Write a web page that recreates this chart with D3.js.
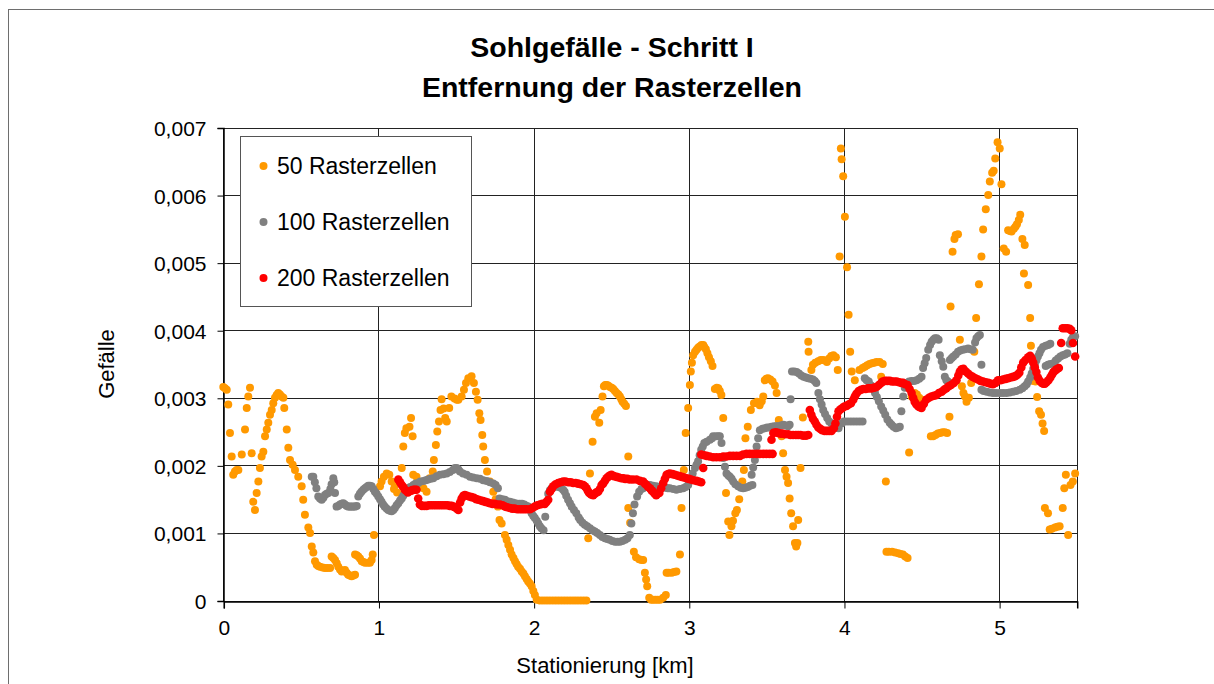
<!DOCTYPE html>
<html><head><meta charset="utf-8">
<script src="https://cdn.jsdelivr.net/npm/d3@7"></script>
<style>html,body{margin:0;padding:0;background:#fff;}svg{display:block;}</style>
</head><body>
<svg id="chart" width="1214" height="684"></svg>
<script>
const titleLines = ["Sohlgefälle - Schritt I", "Entfernung der Rasterzellen"];
const xTitle = "Stationierung [km]";
const yTitle = "Gefälle";
const seriesNames = ["50 Rasterzellen", "100 Rasterzellen", "200 Rasterzellen"];
const xTicks = [0, 1, 2, 3, 4, 5];
const xTickLabels = ["0", "1", "2", "3", "4", "5"];
const yTicks = [0, 0.001, 0.002, 0.003, 0.004, 0.005, 0.006, 0.007];
const yTickLabels = ["0", "0,001", "0,002", "0,003", "0,004", "0,005", "0,006", "0,007"];

// 50 Rasterzellen: [km, Gefälle]
const s50 = [
[0.000,0.00316],[0.011,0.00314],[0.022,0.00312],[0.032,0.00290],[0.043,0.00248],[0.054,0.00213],[0.064,0.00186],[0.075,0.00191],[0.086,0.00193],[0.097,0.00193],[0.119,0.00216],[0.140,0.00253],[0.151,0.00285],[0.161,0.00302],[0.172,0.00315],[0.183,0.00218],[0.193,0.00146],[0.204,0.00134],[0.215,0.00159],[0.226,0.00176],[0.236,0.00196],[0.247,0.00213],[0.258,0.00220],[0.269,0.00243],[0.280,0.00253],[0.290,0.00263],[0.301,0.00275],[0.312,0.00282],[0.322,0.00292],[0.333,0.00300],[0.344,0.00304],[0.354,0.00307],[0.365,0.00305],[0.376,0.00302],[0.387,0.00300],[0.393,0.00285],[0.409,0.00253],[0.419,0.00226],[0.430,0.00208],[0.447,0.00201],[0.462,0.00193],[0.483,0.00183],[0.505,0.00169],[0.515,0.00149],[0.526,0.00127],[0.548,0.00108],[0.559,0.00100],[0.570,0.00080],[0.580,0.00071],[0.591,0.00058],[0.602,0.00053],[0.612,0.00051],[0.623,0.00050],[0.640,0.00049],[0.655,0.00048],[0.670,0.00048],[0.688,0.00048],[0.698,0.00065],[0.709,0.00063],[0.720,0.00060],[0.731,0.00055],[0.741,0.00050],[0.752,0.00046],[0.763,0.00043],[0.774,0.00044],[0.784,0.00045],[0.795,0.00041],[0.805,0.00038],[0.816,0.00037],[0.827,0.00036],[0.838,0.00037],[0.849,0.00038],[0.849,0.00068],[0.860,0.00067],[0.870,0.00065],[0.881,0.00062],[0.892,0.00058],[0.903,0.00057],[0.913,0.00056],[0.930,0.00056],[0.945,0.00056],[0.956,0.00060],[0.963,0.00068],[0.971,0.00097],
[1.010,0.00169],[1.020,0.00176],[1.035,0.00183],[1.053,0.00188],[1.070,0.00186],[1.085,0.00176],[1.100,0.00165],[1.106,0.00171],[1.120,0.00160],[1.150,0.00196],[1.160,0.00228],[1.170,0.00248],[1.180,0.00255],[1.200,0.00257],[1.210,0.00270],[1.220,0.00243],[1.224,0.00186],[1.245,0.00183],[1.267,0.00171],[1.290,0.00166],[1.310,0.00161],[1.330,0.00181],[1.350,0.00191],[1.357,0.00208],[1.370,0.00230],[1.379,0.00250],[1.390,0.00265],[1.400,0.00282],[1.407,0.00298],[1.420,0.00284],[1.430,0.00270],[1.440,0.00265],[1.456,0.00285],[1.470,0.00302],[1.490,0.00299],[1.505,0.00297],[1.515,0.00297],[1.536,0.00302],[1.551,0.00312],[1.564,0.00322],[1.579,0.00329],[1.600,0.00332],[1.615,0.00322],[1.628,0.00309],[1.639,0.00297],[1.650,0.00277],[1.658,0.00267],[1.669,0.00245],[1.675,0.00228],[1.686,0.00208],[1.700,0.00191],[1.718,0.00176],[1.740,0.00161],[1.755,0.00150],[1.770,0.00139],[1.780,0.00119],[1.794,0.00114],[1.815,0.00097],[1.826,0.00090],[1.837,0.00082],[1.848,0.00075],[1.858,0.00068],[1.870,0.00063],[1.880,0.00058],[1.890,0.00054],[1.900,0.00050],[1.912,0.00047],[1.923,0.00043],[1.934,0.00040],[1.944,0.00036],[1.955,0.00032],[1.965,0.00028],[1.976,0.00025],[1.987,0.00021],[1.998,0.00014],[2.008,0.00008],[2.020,0.00001],
[2.040,0],[2.060,0],[2.080,0],[2.100,0],[2.120,0],[2.140,0],[2.160,0],[2.180,0],[2.200,0],[2.220,0],[2.240,0],[2.260,0],[2.280,0],[2.300,0],[2.320,0],[2.340,0],
[2.352,0.00092],[2.363,0.00188],[2.380,0.00235],[2.395,0.00272],[2.406,0.00277],[2.423,0.00263],[2.432,0.00282],[2.444,0.00302],[2.453,0.00317],[2.462,0.00319],[2.470,0.00319],[2.480,0.00318],[2.492,0.00316],[2.503,0.00315],[2.513,0.00313],[2.524,0.00310],[2.535,0.00307],[2.546,0.00305],[2.556,0.00302],[2.565,0.00298],[2.573,0.00294],[2.584,0.00291],[2.595,0.00288],[2.610,0.00213],[2.610,0.00137],[2.622,0.00115],[2.646,0.00072],[2.660,0.00064],[2.680,0.00061],[2.695,0.00060],[2.706,0.00060],[2.717,0.00041],[2.725,0.00031],[2.732,0.00021],[2.745,0.00004],[2.757,0.00001],[2.770,0.00001],[2.785,0.00001],[2.800,0.00001],[2.815,0.00001],[2.835,0.00004],[2.852,0.00008],[2.857,0.00041],[2.870,0.00041],[2.890,0.00041],[2.905,0.00042],[2.920,0.00043],[2.943,0.00068],[2.953,0.00137],[2.968,0.00193],[2.980,0.00248],[2.996,0.00285],[3.007,0.00319],[3.013,0.00339],[3.020,0.00352],[3.028,0.00363],[3.040,0.00368],[3.050,0.00371],[3.060,0.00374],[3.070,0.00376],[3.082,0.00378],[3.093,0.00378],[3.100,0.00375],[3.110,0.00372],[3.120,0.00366],[3.130,0.00360],[3.142,0.00354],[3.153,0.00347],[3.168,0.00313],[3.180,0.00315],[3.190,0.00314],[3.200,0.00310],[3.210,0.00304],[3.222,0.00270],[3.240,0.00159],[3.254,0.00117],[3.262,0.00097],[3.275,0.00110],[3.285,0.00118],[3.300,0.00129],[3.310,0.00134],[3.325,0.00150],[3.345,0.00176],[3.355,0.00193],[3.365,0.00240],[3.380,0.00257],[3.400,0.00282],[3.420,0.00292],[3.440,0.00294],[3.457,0.00289],[3.470,0.00295],[3.480,0.00302],[3.490,0.00326],[3.500,0.00328],[3.510,0.00329],[3.525,0.00327],[3.540,0.00324],[3.555,0.00318],[3.566,0.00307],[3.580,0.00267],[3.598,0.00243],[3.608,0.00218],[3.620,0.00193],[3.630,0.00183],[3.640,0.00174],[3.650,0.00151],[3.660,0.00129],[3.672,0.00110],[3.684,0.00085],[3.692,0.00080],
[3.700,0.00085],[3.705,0.00119],[3.720,0.00196],[3.735,0.00271],[3.770,0.00383],[3.772,0.00368],[3.790,0.00341],[3.800,0.00349],[3.815,0.00352],[3.834,0.00354],[3.850,0.00356],[3.865,0.00356],[3.880,0.00355],[3.890,0.00353],[3.905,0.00358],[3.918,0.00362],[3.932,0.00363],[3.948,0.00360],[3.960,0.00341],[3.972,0.00509],[3.980,0.00669],[3.985,0.00653],[3.995,0.00628],[4.006,0.00568],[4.020,0.00493],[4.030,0.00423],[4.040,0.00368],[4.050,0.00339],[4.070,0.00326],[4.100,0.00341],[4.120,0.00344],[4.135,0.00346],[4.150,0.00348],[4.165,0.00350],[4.180,0.00351],[4.195,0.00352],[4.210,0.00353],[4.230,0.00353],[4.240,0.00331],[4.250,0.00350],[4.270,0.00176],[4.274,0.00072],[4.290,0.00072],[4.310,0.00072],[4.330,0.00071],[4.350,0.00070],[4.365,0.00069],[4.380,0.00068],[4.395,0.00065],[4.410,0.00063],[4.420,0.00219],[4.436,0.00302],[4.456,0.00307],[4.470,0.00305],[4.485,0.00300],[4.500,0.00297],[4.510,0.00292],[4.560,0.00243],[4.575,0.00243],[4.590,0.00245],[4.605,0.00247],[4.620,0.00248],[4.635,0.00249],[4.650,0.00249],[4.665,0.00248],[4.680,0.00272],[4.687,0.00435],[4.700,0.00516],[4.712,0.00535],[4.720,0.00541],[4.735,0.00542],[4.747,0.00386],[4.760,0.00317],[4.770,0.00307],[4.780,0.00302],[4.790,0.00294],[4.805,0.00300],[4.820,0.00322],[4.840,0.00368],[4.852,0.00418],[4.870,0.00468],[4.886,0.00509],[4.897,0.00549],[4.914,0.00579],[4.930,0.00600],[4.940,0.00620],[4.955,0.00633],[4.965,0.00636],[4.975,0.00654],[4.990,0.00678],[5.004,0.00669],[5.015,0.00616],[5.030,0.00521],[5.045,0.00516],[5.058,0.00548],[5.070,0.00547],[5.080,0.00546],[5.095,0.00550],[5.105,0.00553],[5.115,0.00557],[5.127,0.00563],[5.136,0.00571],[5.150,0.00535],[5.165,0.00526],[5.160,0.00484],[5.187,0.00467],[5.200,0.00418],[5.205,0.00377],[5.220,0.00325],[5.235,0.00324],[5.245,0.00301],[5.258,0.00280],[5.270,0.00275],[5.280,0.00262],[5.290,0.00251],[5.295,0.00137],[5.315,0.00129],[5.326,0.00105],[5.340,0.00106],[5.360,0.00108],[5.375,0.00109],[5.390,0.00110],[5.410,0.00137],[5.420,0.00166],[5.430,0.00186],[5.445,0.00097],[5.460,0.00171],[5.475,0.00176],[5.490,0.00188]
];

// 100 Rasterzellen
const s100 = [
[0.570,0.00183],[0.580,0.00183],[0.590,0.00175],[0.600,0.00166],[0.612,0.00154],[0.623,0.00151],[0.634,0.00149],[0.645,0.00152],[0.655,0.00156],[0.666,0.00158],[0.677,0.00159],[0.690,0.00165],[0.698,0.00172],[0.709,0.00181],[0.715,0.00175],[0.720,0.00159],[0.730,0.00139],[0.741,0.00140],[0.752,0.00142],[0.763,0.00143],[0.773,0.00144],[0.784,0.00142],[0.795,0.00140],[0.806,0.00139],[0.816,0.00139],[0.827,0.00139],[0.838,0.00139],[0.849,0.00139],[0.860,0.00140],[0.870,0.00154],[0.880,0.00158],[0.890,0.00161],[0.902,0.00164],[0.913,0.00166],[0.924,0.00168],[0.934,0.00170],[0.945,0.00170],[0.956,0.00169],[0.967,0.00165],[0.977,0.00161],[0.988,0.00158],[0.999,0.00154],[1.010,0.00150],[1.020,0.00146],[1.030,0.00142],[1.040,0.00139],[1.052,0.00136],[1.063,0.00134],[1.074,0.00133],[1.085,0.00132],[1.096,0.00134],[1.106,0.00137],[1.117,0.00141],[1.128,0.00144],[1.139,0.00148],[1.150,0.00151],[1.160,0.00155],[1.170,0.00159],[1.180,0.00163],[1.190,0.00166],[1.205,0.00168],[1.225,0.00171],[1.240,0.00173],[1.256,0.00174],[1.270,0.00176],[1.290,0.00177],[1.305,0.00178],[1.320,0.00179],[1.336,0.00180],[1.353,0.00181],[1.375,0.00184],[1.396,0.00186],[1.418,0.00187],[1.440,0.00188],[1.460,0.00190],[1.480,0.00193],[1.493,0.00196],[1.504,0.00196],[1.515,0.00194],[1.525,0.00191],[1.545,0.00188],[1.568,0.00186],[1.590,0.00183],[1.610,0.00182],[1.633,0.00181],[1.654,0.00180],[1.675,0.00178],[1.697,0.00177],[1.718,0.00175],[1.740,0.00173],[1.755,0.00171],[1.770,0.00166],[1.780,0.00151],[1.798,0.00150],[1.815,0.00149],[1.830,0.00147],[1.847,0.00146],[1.865,0.00145],[1.880,0.00144],[1.895,0.00143],[1.910,0.00143],[1.925,0.00143],[1.940,0.00142],[1.955,0.00140],[1.965,0.00139],[1.976,0.00134],[1.987,0.00129],[1.998,0.00125],[2.008,0.00122],[2.020,0.00118],[2.030,0.00114],[2.040,0.00110],[2.050,0.00107],[2.064,0.00104],[2.075,0.00124],[2.094,0.00158],[2.105,0.00163],[2.116,0.00166],[2.130,0.00168],[2.145,0.00169],[2.160,0.00168],[2.175,0.00167],[2.190,0.00164],[2.200,0.00161],[2.210,0.00155],[2.222,0.00149],[2.234,0.00144],[2.245,0.00139],[2.260,0.00134],[2.275,0.00129],[2.290,0.00123],[2.300,0.00119],[2.315,0.00115],[2.330,0.00112],[2.345,0.00110],[2.363,0.00107],[2.380,0.00104],[2.395,0.00102],[2.410,0.00100],[2.427,0.00097],[2.443,0.00094],[2.460,0.00092],[2.475,0.00091],[2.490,0.00090],[2.507,0.00088],[2.524,0.00087],[2.540,0.00087],[2.556,0.00087],[2.572,0.00088],[2.590,0.00090],[2.605,0.00092],[2.620,0.00097],[2.630,0.00114],[2.640,0.00129],[2.650,0.00142],[2.667,0.00154],[2.680,0.00161],[2.695,0.00165],[2.706,0.00166],[2.717,0.00169],[2.733,0.00171],[2.750,0.00171],[2.770,0.00170],[2.790,0.00169],[2.810,0.00168],[2.830,0.00168],[2.850,0.00167],[2.865,0.00166],[2.878,0.00166],[2.900,0.00165],[2.920,0.00164],[2.942,0.00165],[2.964,0.00166],[2.980,0.00168],[2.996,0.00171],[3.010,0.00179],[3.025,0.00188],[3.040,0.00196],[3.050,0.00201],[3.060,0.00206],[3.070,0.00215],[3.080,0.00223],[3.090,0.00228],[3.100,0.00233],[3.115,0.00235],[3.136,0.00238],[3.150,0.00240],[3.157,0.00243],[3.175,0.00243],[3.190,0.00243],[3.200,0.00243],[3.211,0.00233],[3.222,0.00211],[3.233,0.00198],[3.243,0.00188],[3.255,0.00185],[3.265,0.00183],[3.276,0.00180],[3.286,0.00176],[3.300,0.00172],[3.318,0.00169],[3.335,0.00167],[3.350,0.00166],[3.365,0.00167],[3.380,0.00168],[3.395,0.00170],[3.410,0.00171],[3.405,0.00186],[3.415,0.00197],[3.426,0.00208],[3.437,0.00228],[3.447,0.00240],[3.458,0.00252],[3.475,0.00254],[3.490,0.00255],[3.505,0.00256],[3.520,0.00256],[3.533,0.00257],[3.550,0.00258],[3.565,0.00258],[3.576,0.00258],[3.595,0.00259],[3.610,0.00260],[3.625,0.00259],[3.640,0.00258],[3.650,0.00260],[3.656,0.00298],[3.665,0.00339],[3.680,0.00339],[3.695,0.00338],[3.710,0.00336],[3.725,0.00333],[3.740,0.00331],[3.755,0.00330],[3.770,0.00329],[3.785,0.00328],[3.800,0.00327],[3.812,0.00325],[3.822,0.00322],[3.835,0.00307],[3.845,0.00298],[3.856,0.00290],[3.866,0.00282],[3.878,0.00276],[3.892,0.00270],[3.905,0.00265],[3.920,0.00262],[3.935,0.00258],[3.950,0.00256],[3.965,0.00255],[3.985,0.00262],[4.000,0.00265],[4.020,0.00265],[4.040,0.00265],[4.060,0.00265],[4.080,0.00265],[4.100,0.00265],[4.120,0.00265],
[4.134,0.00329],[4.146,0.00326],[4.160,0.00324],[4.175,0.00318],[4.188,0.00313],[4.200,0.00307],[4.212,0.00301],[4.225,0.00295],[4.240,0.00287],[4.253,0.00281],[4.266,0.00275],[4.280,0.00268],[4.295,0.00263],[4.307,0.00260],[4.320,0.00257],[4.335,0.00255],[4.350,0.00256],[4.360,0.00257],[4.370,0.00280],[4.382,0.00302],[4.392,0.00315],[4.403,0.00322],[4.420,0.00324],[4.436,0.00325],[4.452,0.00325],[4.468,0.00326],[4.485,0.00328],[4.500,0.00331],[4.510,0.00344],[4.520,0.00351],[4.530,0.00359],[4.543,0.00371],[4.555,0.00378],[4.565,0.00383],[4.576,0.00386],[4.586,0.00388],[4.598,0.00388],[4.610,0.00386],[4.618,0.00363],[4.630,0.00354],[4.640,0.00346],[4.650,0.00331],[4.660,0.00326],[4.670,0.00324],[4.683,0.00356],[4.695,0.00359],[4.705,0.00361],[4.720,0.00364],[4.735,0.00368],[4.750,0.00370],[4.765,0.00371],[4.780,0.00372],[4.800,0.00373],[4.815,0.00372],[4.830,0.00371],[4.845,0.00382],[4.854,0.00388],[4.865,0.00391],[4.876,0.00393],[4.886,0.00349],[4.886,0.00312],[4.900,0.00310],[4.920,0.00309],[4.940,0.00308],[4.960,0.00307],[4.980,0.00307],[5.004,0.00307],[5.025,0.00307],[5.047,0.00307],[5.068,0.00308],[5.090,0.00309],[5.110,0.00310],[5.133,0.00312],[5.150,0.00314],[5.165,0.00317],[5.178,0.00320],[5.187,0.00324],[5.200,0.00330],[5.210,0.00336],[5.220,0.00343],[5.230,0.00349],[5.240,0.00355],[5.250,0.00361],[5.260,0.00366],[5.270,0.00371],[5.283,0.00375],[5.300,0.00377],[5.316,0.00378],[5.330,0.00380],
[5.300,0.00347],[5.315,0.00349],[5.330,0.00350],[5.350,0.00351],[5.365,0.00355],[5.380,0.00358],[5.395,0.00361],[5.410,0.00363],[5.425,0.00364],[5.440,0.00366],[5.455,0.00380],[5.465,0.00386],[5.476,0.00390],[5.490,0.00391]
];

// 200 Rasterzellen
const s200 = [
[1.128,0.00179],[1.139,0.00175],[1.150,0.00171],[1.160,0.00168],[1.170,0.00164],[1.180,0.00162],[1.190,0.00160],[1.205,0.00162],[1.215,0.00163],[1.225,0.00164],[1.235,0.00164],[1.245,0.00164],[1.256,0.00151],[1.267,0.00142],[1.280,0.00140],[1.295,0.00140],[1.310,0.00140],[1.325,0.00141],[1.340,0.00141],[1.355,0.00141],[1.370,0.00141],[1.385,0.00141],[1.400,0.00141],[1.415,0.00141],[1.430,0.00141],[1.445,0.00141],[1.460,0.00140],[1.472,0.00140],[1.483,0.00139],[1.494,0.00138],[1.505,0.00136],[1.515,0.00134],[1.526,0.00145],[1.536,0.00151],[1.547,0.00155],[1.557,0.00156],[1.570,0.00155],[1.585,0.00154],[1.600,0.00153],[1.615,0.00152],[1.630,0.00150],[1.645,0.00149],[1.660,0.00148],[1.675,0.00147],[1.690,0.00146],[1.705,0.00145],[1.718,0.00144],[1.735,0.00143],[1.750,0.00143],[1.765,0.00142],[1.783,0.00142],[1.800,0.00141],[1.815,0.00139],[1.830,0.00138],[1.847,0.00137],[1.862,0.00136],[1.878,0.00136],[1.894,0.00135],[1.910,0.00135],[1.925,0.00135],[1.940,0.00135],[1.955,0.00135],[1.976,0.00135],[1.992,0.00137],[2.008,0.00139],[2.024,0.00141],[2.040,0.00142],[2.056,0.00143],[2.072,0.00143],[2.083,0.00146],[2.094,0.00149],[2.105,0.00161],[2.116,0.00165],[2.126,0.00169],[2.142,0.00172],[2.158,0.00174],[2.174,0.00175],[2.190,0.00176],[2.206,0.00176],[2.223,0.00175],[2.239,0.00175],[2.255,0.00174],[2.271,0.00174],[2.287,0.00173],[2.303,0.00172],[2.320,0.00171],[2.330,0.00169],[2.341,0.00166],[2.350,0.00162],[2.358,0.00159],[2.370,0.00157],[2.384,0.00156],[2.395,0.00158],[2.405,0.00160],[2.416,0.00161],[2.427,0.00165],[2.438,0.00171],[2.448,0.00173],[2.459,0.00177],[2.470,0.00181],[2.480,0.00183],[2.491,0.00185],[2.502,0.00186],[2.518,0.00184],[2.535,0.00183],[2.550,0.00182],[2.565,0.00181],[2.577,0.00181],[2.590,0.00180],[2.605,0.00180],[2.620,0.00179],[2.640,0.00179],[2.663,0.00179],[2.685,0.00177],[2.706,0.00176],[2.717,0.00173],[2.728,0.00171],[2.738,0.00168],[2.750,0.00166],[2.760,0.00163],[2.770,0.00161],[2.780,0.00158],[2.790,0.00156],[2.800,0.00158],[2.810,0.00159],[2.822,0.00166],[2.835,0.00174],[2.846,0.00180],[2.857,0.00186],[2.868,0.00187],[2.878,0.00188],[2.895,0.00187],[2.910,0.00186],[2.925,0.00185],[2.940,0.00184],[2.955,0.00183],[2.970,0.00182],[2.985,0.00181],[3.000,0.00180],[3.015,0.00179],[3.030,0.00178],[3.050,0.00177],[3.065,0.00176],[3.080,0.00175],[3.093,0.00196],
[3.080,0.00216],[3.098,0.00215],[3.115,0.00214],[3.135,0.00213],[3.157,0.00212],[3.178,0.00212],[3.200,0.00212],[3.222,0.00213],[3.243,0.00213],[3.265,0.00214],[3.286,0.00214],[3.308,0.00214],[3.330,0.00214],[3.350,0.00216],[3.372,0.00217],[3.393,0.00217],[3.415,0.00217],[3.437,0.00217],[3.458,0.00217],[3.480,0.00217],[3.500,0.00217],[3.520,0.00217],[3.540,0.00217],
[3.533,0.00238],[3.545,0.00248],[3.560,0.00249],[3.575,0.00248],[3.590,0.00247],[3.605,0.00247],[3.620,0.00246],[3.640,0.00246],[3.655,0.00245],[3.672,0.00245],[3.690,0.00245],[3.705,0.00245],[3.720,0.00245],[3.737,0.00244],[3.755,0.00244],[3.770,0.00245],[3.780,0.00282],[3.790,0.00275],[3.800,0.00269],[3.812,0.00265],[3.823,0.00260],[3.835,0.00256],[3.848,0.00254],[3.860,0.00252],[3.875,0.00251],[3.890,0.00251],[3.905,0.00251],[3.920,0.00251],[3.935,0.00255],[3.945,0.00262],[3.955,0.00272],[3.965,0.00280],[3.978,0.00283],[3.990,0.00285],[4.003,0.00287],[4.017,0.00288],[4.030,0.00290],[4.045,0.00292],[4.060,0.00297],[4.070,0.00302],[4.080,0.00306],[4.095,0.00310],[4.110,0.00312],[4.125,0.00313],[4.140,0.00313],[4.155,0.00314],[4.167,0.00314],[4.180,0.00314],[4.195,0.00315],[4.210,0.00316],[4.225,0.00319],[4.240,0.00322],[4.250,0.00324],[4.265,0.00325],[4.280,0.00325],[4.296,0.00325],[4.310,0.00324],[4.325,0.00324],[4.340,0.00324],[4.355,0.00323],[4.370,0.00322],[4.382,0.00322],[4.395,0.00320],[4.410,0.00319],[4.423,0.00313],[4.436,0.00307],[4.446,0.00300],[4.456,0.00294],[4.467,0.00290],[4.480,0.00287],[4.490,0.00286],[4.500,0.00285],[4.515,0.00291],[4.530,0.00297],[4.548,0.00300],[4.564,0.00302],[4.580,0.00303],[4.596,0.00304],[4.612,0.00307],[4.630,0.00309],[4.645,0.00312],[4.660,0.00314],[4.675,0.00317],[4.690,0.00319],[4.708,0.00322],[4.725,0.00326],[4.737,0.00333],[4.747,0.00339],[4.758,0.00342],[4.770,0.00343],[4.785,0.00339],[4.800,0.00336],[4.815,0.00333],[4.830,0.00331],[4.847,0.00329],[4.864,0.00327],[4.880,0.00325],[4.897,0.00324],[4.913,0.00323],[4.930,0.00322],[4.945,0.00321],[4.960,0.00320],[4.977,0.00322],[4.993,0.00326],[5.010,0.00326],[5.025,0.00327],[5.042,0.00328],[5.058,0.00329],[5.074,0.00330],[5.090,0.00331],[5.105,0.00332],[5.118,0.00334],[5.130,0.00337],[5.143,0.00345],[5.155,0.00352],[5.170,0.00356],[5.187,0.00360],[5.200,0.00362],[5.210,0.00358],[5.220,0.00352],[5.230,0.00345],[5.240,0.00338],[5.250,0.00330],[5.262,0.00325],[5.275,0.00322],[5.285,0.00321],[5.295,0.00321],[5.305,0.00323],[5.318,0.00326],[5.330,0.00330],[5.340,0.00334],[5.350,0.00338],[5.360,0.00340],[5.370,0.00342],[5.385,0.00344],[5.400,0.00381],[5.410,0.00403],[5.425,0.00403],[5.440,0.00403],[5.455,0.00402],[5.465,0.00400],[5.476,0.00381],[5.490,0.00361]
];

const seriesData = [s50, s100, s200];
const seriesColors = ["#FF9900", "#808080", "#FF0000"];

const svg = d3.select("#chart");
const font = "'Liberation Sans', Arial, sans-serif";
const plot = {left: 223.3, right: 1076.7, top: 127.5, bottom: 600.5};

const x = d3.scaleLinear().domain([0, 5.5]).range([plot.left, plot.right]);
const y = d3.scaleLinear().domain([0, 0.007]).range([plot.bottom, plot.top]);
const px = v => Math.round(v) + 0.5;

svg.append("rect").attr("width", 1214).attr("height", 684).attr("fill", "#fff");
// chart border
svg.append("rect").attr("x", 8.5).attr("y", 9.5).attr("width", 1220).attr("height", 700)
  .attr("fill", "none").attr("stroke", "#6e6e6e").attr("stroke-width", 1);

// title
svg.append("text").attr("x", 612).attr("y", 57).attr("text-anchor", "middle")
  .attr("font-family", font).attr("font-weight", "bold").attr("font-size", 28.5).text(titleLines[0]);
svg.append("text").attr("x", 612).attr("y", 97).attr("text-anchor", "middle")
  .attr("font-family", font).attr("font-weight", "bold").attr("font-size", 28.5).text(titleLines[1]);

// gridlines
const grid = svg.append("g");
yTicks.slice(1).forEach(t => {
  grid.append("line").attr("x1", px(plot.left)).attr("x2", px(plot.right))
    .attr("y1", px(y(t))).attr("y2", px(y(t))).attr("stroke", "#222").attr("stroke-width", 1);
});
xTicks.slice(1).forEach(t => {
  grid.append("line").attr("x1", px(x(t))).attr("x2", px(x(t)))
    .attr("y1", px(plot.top)).attr("y2", px(plot.bottom)).attr("stroke", "#222").attr("stroke-width", 1);
});
// plot frame
svg.append("rect").attr("x", px(plot.left)).attr("y", px(plot.top))
  .attr("width", px(plot.right) - px(plot.left)).attr("height", px(plot.bottom) - px(plot.top))
  .attr("fill", "none").attr("stroke", "#222").attr("stroke-width", 1);

// axes
const yAxis = d3.axisLeft(y).tickValues(yTicks).tickSize(6).tickPadding(11)
  .tickFormat((d, i) => yTickLabels[i]);
const gy = svg.append("g").attr("transform", `translate(${px(plot.left)},0.5)`).call(yAxis);
const xAxis = d3.axisBottom(x).tickValues(xTicks).tickSize(7).tickPadding(12)
  .tickFormat((d, i) => xTickLabels[i]);
const gx = svg.append("g").attr("transform", `translate(0.5,${px(plot.bottom)})`).call(xAxis);
[gx, gy].forEach(g => {
  g.select(".domain").attr("stroke", "#000").attr("stroke-width", 1.5);
  g.selectAll(".tick line").attr("stroke", "#000");
  g.selectAll("text").attr("font-family", font).attr("font-size", 21).attr("fill", "#000");
});
gy.selectAll("text").attr("dy", "0.36em");

// axis titles
svg.append("text").attr("x", 605).attr("y", 673).attr("text-anchor", "middle")
  .attr("font-family", font).attr("font-size", 22).text(xTitle);
svg.append("text").attr("transform", "translate(114,364) rotate(-90)").attr("text-anchor", "middle")
  .attr("font-family", font).attr("font-size", 22).text(yTitle);

// series
const clip = svg.append("clipPath").attr("id", "clip").append("rect")
  .attr("x", plot.left - 6).attr("y", plot.top - 6)
  .attr("width", plot.right - plot.left + 12).attr("height", plot.bottom - plot.top + 12);
const marks = svg.append("g").attr("clip-path", "url(#clip)");
seriesData.forEach((data, i) => {
  marks.append("g").selectAll("circle").data(data).join("circle")
    .attr("cx", d => x(d[0])).attr("cy", d => y(d[1]))
    .attr("r", i === 2 ? 4.3 : 4).attr("fill", seriesColors[i]);
});

// legend
const lg = svg.append("g");
lg.append("rect").attr("x", 240.5).attr("y", 136.5).attr("width", 231).attr("height", 170)
  .attr("fill", "#fff").attr("stroke", "#555").attr("stroke-width", 1);
const legendY = [166, 222, 278];
seriesNames.forEach((name, i) => {
  lg.append("circle").attr("cx", 263.5).attr("cy", legendY[i]).attr("r", 4).attr("fill", seriesColors[i]);
  lg.append("text").attr("x", 277).attr("y", legendY[i] + 8.3)
    .attr("font-family", font).attr("font-size", 23).text(name);
});
</script>
</body></html>
